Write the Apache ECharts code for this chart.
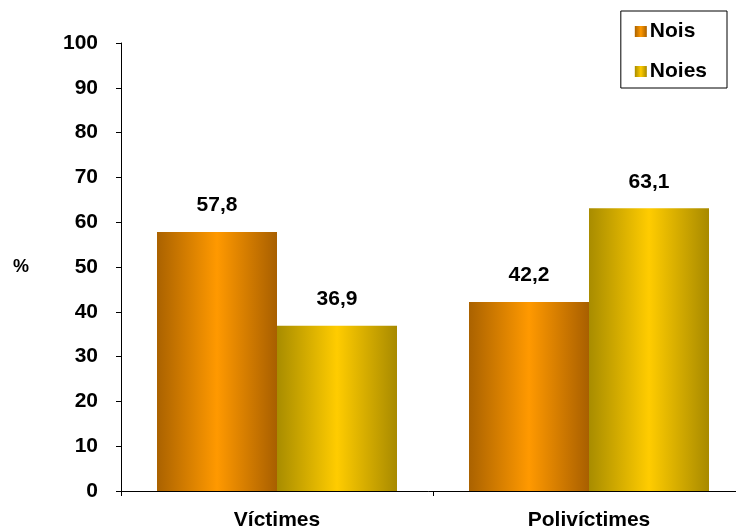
<!DOCTYPE html>
<html>
<head>
<meta charset="utf-8">
<script src="https://cdn.jsdelivr.net/npm/echarts@6/dist/echarts.min.js"></script>
<style>
  html, body { margin: 0; padding: 0; background: #fff; }
  #chart { width: 736px; height: 527px; }
</style>
</head>
<body>
<div id="chart"></div>
<script>
// Percentages of victims by gender
const categories = ['Víctimes', 'Polivíctimes'];
const seriesNames = ['Nois', 'Noies'];
const noisValues = [57.8, 42.2];
const noiesValues = [36.9, 63.1];
const yTicks = [0, 10, 20, 30, 40, 50, 60, 70, 80, 90, 100];

const FONT = '"Liberation Sans", Arial, sans-serif';

function barGradient(edgeL, mid, edgeR) {
  return new echarts.graphic.LinearGradient(0, 0, 1, 0, [
    { offset: 0, color: edgeL },
    { offset: 0.5, color: mid },
    { offset: 1, color: edgeR }
  ]);
}

const noisFill = barGradient('#aa6200', '#ff9900', '#a85f00');
const noiesFill = barGradient('#a88c00', '#ffcc00', '#a88a00');

const labelStyle = {
  show: true,
  position: 'top',
  distance: 16,
  fontFamily: FONT,
  fontWeight: 'bold',
  fontSize: 21,
  color: '#000',
  formatter: p => String(p.value).replace('.', ',')
};

const chart = echarts.init(document.getElementById('chart'), null, { renderer: 'canvas' });
chart.setOption({
  animation: false,
  backgroundColor: '#fff',
  grid: {
    left: 121, width: 624, top: 43, bottom: 36,
    containLabel: false,
    outerBoundsMode: 'none'
  },
  legend: {
    right: 9,
    top: 11,
    orient: 'vertical',
    itemWidth: 12,
    itemHeight: 11,
    itemGap: 19,
    padding: [10, 20, 6, 14],
    borderColor: '#000',
    borderWidth: 1,
    icon: 'rect',
    textStyle: { fontFamily: FONT, fontWeight: 'bold', fontSize: 21, color: '#000', padding: [0, 0, 0, -2] },
    data: seriesNames
  },
  xAxis: {
    type: 'category',
    data: categories,
    axisLine: { lineStyle: { color: '#000', width: 1 } },
    axisTick: { show: true, length: 5, lineStyle: { color: '#000' } },
    axisLabel: { fontFamily: FONT, fontWeight: 'bold', fontSize: 21, color: '#000', margin: 19 }
  },
  yAxis: {
    type: 'value',
    min: yTicks[0],
    max: yTicks[yTicks.length - 1],
    interval: 10,
    name: '%',
    nameLocation: 'middle',
    nameRotate: 0,
    nameGap: 92,
    nameTextStyle: { fontFamily: FONT, fontWeight: 'bold', fontSize: 18, color: '#000' },
    splitLine: { show: false },
    axisLine: { show: true, lineStyle: { color: '#000', width: 1 } },
    axisTick: { show: true, length: 5, lineStyle: { color: '#000' } },
    axisLabel: { fontFamily: FONT, fontWeight: 'bold', fontSize: 21, color: '#000', margin: 23 }
  },
  series: [
    {
      name: seriesNames[0],
      type: 'bar',
      data: noisValues,
      barWidth: 120,
      barGap: '0%',
      itemStyle: { color: noisFill },
      label: labelStyle
    },
    {
      name: seriesNames[1],
      type: 'bar',
      data: noiesValues,
      barWidth: 120,
      barGap: '0%',
      itemStyle: { color: noiesFill },
      label: labelStyle
    }
  ]
});
</script>
</body>
</html>
